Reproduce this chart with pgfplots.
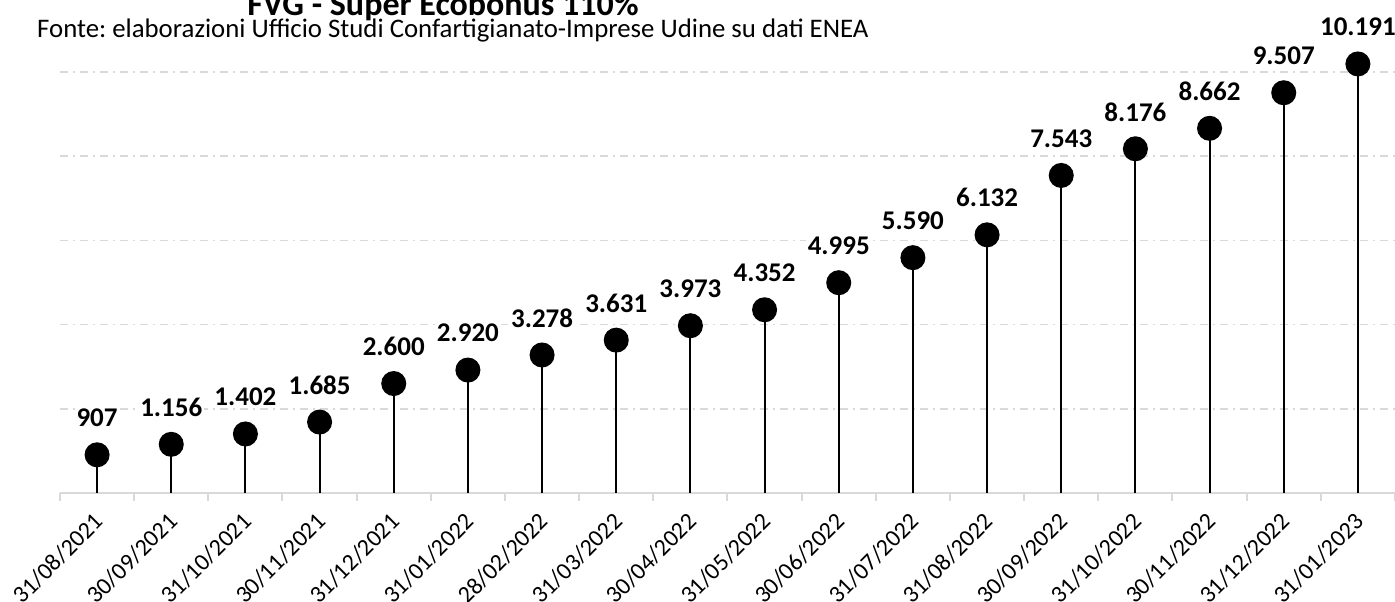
\documentclass[border=0pt]{standalone}
\usepackage{pgfplots}
\pgfplotsset{compat=1.18}
\usepackage{pgfplotstable}
\usepackage{fontspec}
\setmainfont{Carlito}
\frenchspacing
\definecolor{gridgray}{HTML}{D9D9D9}

\pgfplotstableread{
x y lab
0 907 907
1 1156 1.156
2 1402 1.402
3 1685 1.685
4 2600 2.600
5 2920 2.920
6 3278 3.278
7 3631 3.631
8 3973 3.973
9 4352 4.352
10 4995 4.995
11 5590 5.590
12 6132 6.132
13 7543 7.543
14 8176 8.176
15 8662 8.662
16 9507 9.507
17 10191 10.191
}\datatable

\begin{document}
\begin{tikzpicture}[x=1pt,y=1pt]
\path[use as bounding box] (0,0) rectangle (1395,602);
\node[anchor=base, font=\fontsize{34}{40}\selectfont\bfseries] at (443,586) {FVG - Super Ecobonus 110\%};
\node[anchor=base west, font=\fontsize{26.8}{30}\selectfont, inner sep=0pt] at (37,564) {Fonte: elaborazioni Ufficio Studi Confartigianato-Imprese Udine su dati ENEA};
\begin{axis}[
  at={(60pt,109pt)}, anchor=south west,
  scale only axis, width=1335pt, height=421pt,
  xmin=-0.5, xmax=17.5, ymin=0, ymax=10000,
  clip=false,
  scaled y ticks=false,
  axis lines*=left,
  x axis line style={draw=gridgray, line width=2pt},
  y axis line style={draw=none},
  xtick={0,...,17},
  xticklabels={31/08/2021,30/09/2021,31/10/2021,30/11/2021,31/12/2021,31/01/2022,28/02/2022,31/03/2022,30/04/2022,31/05/2022,30/06/2022,31/07/2022,31/08/2022,30/09/2022,31/10/2022,30/11/2022,31/12/2022,31/01/2023},
  xticklabel style={font=\fontsize{24}{28}\selectfont, inner sep=0pt, anchor=east, xshift=2pt, yshift=-20pt, rotate=45},
  minor xtick={-0.5,0.5,...,17.5},
  xtick align=outside,
  major x tick style={draw=none},
  minor x tick style={draw=gridgray, line width=2pt},
  minor tick length=8pt,
  ytick={2000,4000,...,10000},
  yticklabels={},
  major y tick style={draw=none},
  ymajorgrids,
  grid style={draw=gridgray, line width=1.5pt, dash pattern=on 8pt off 5pt on 2pt off 5pt},
]
\addplot+[ycomb, black, line width=2pt, mark=*, mark size=11.5pt, mark options={fill=black, draw=black},
  point meta=explicit symbolic,
  nodes near coords,
  nodes near coords style={anchor=center, yshift=37pt, fill=white, inner sep=2pt, text=black, font=\fontsize{27}{32}\selectfont\bfseries}]
  table[x=x, y=y, meta=lab] {\datatable};
\end{axis}
\end{tikzpicture}
\end{document}
